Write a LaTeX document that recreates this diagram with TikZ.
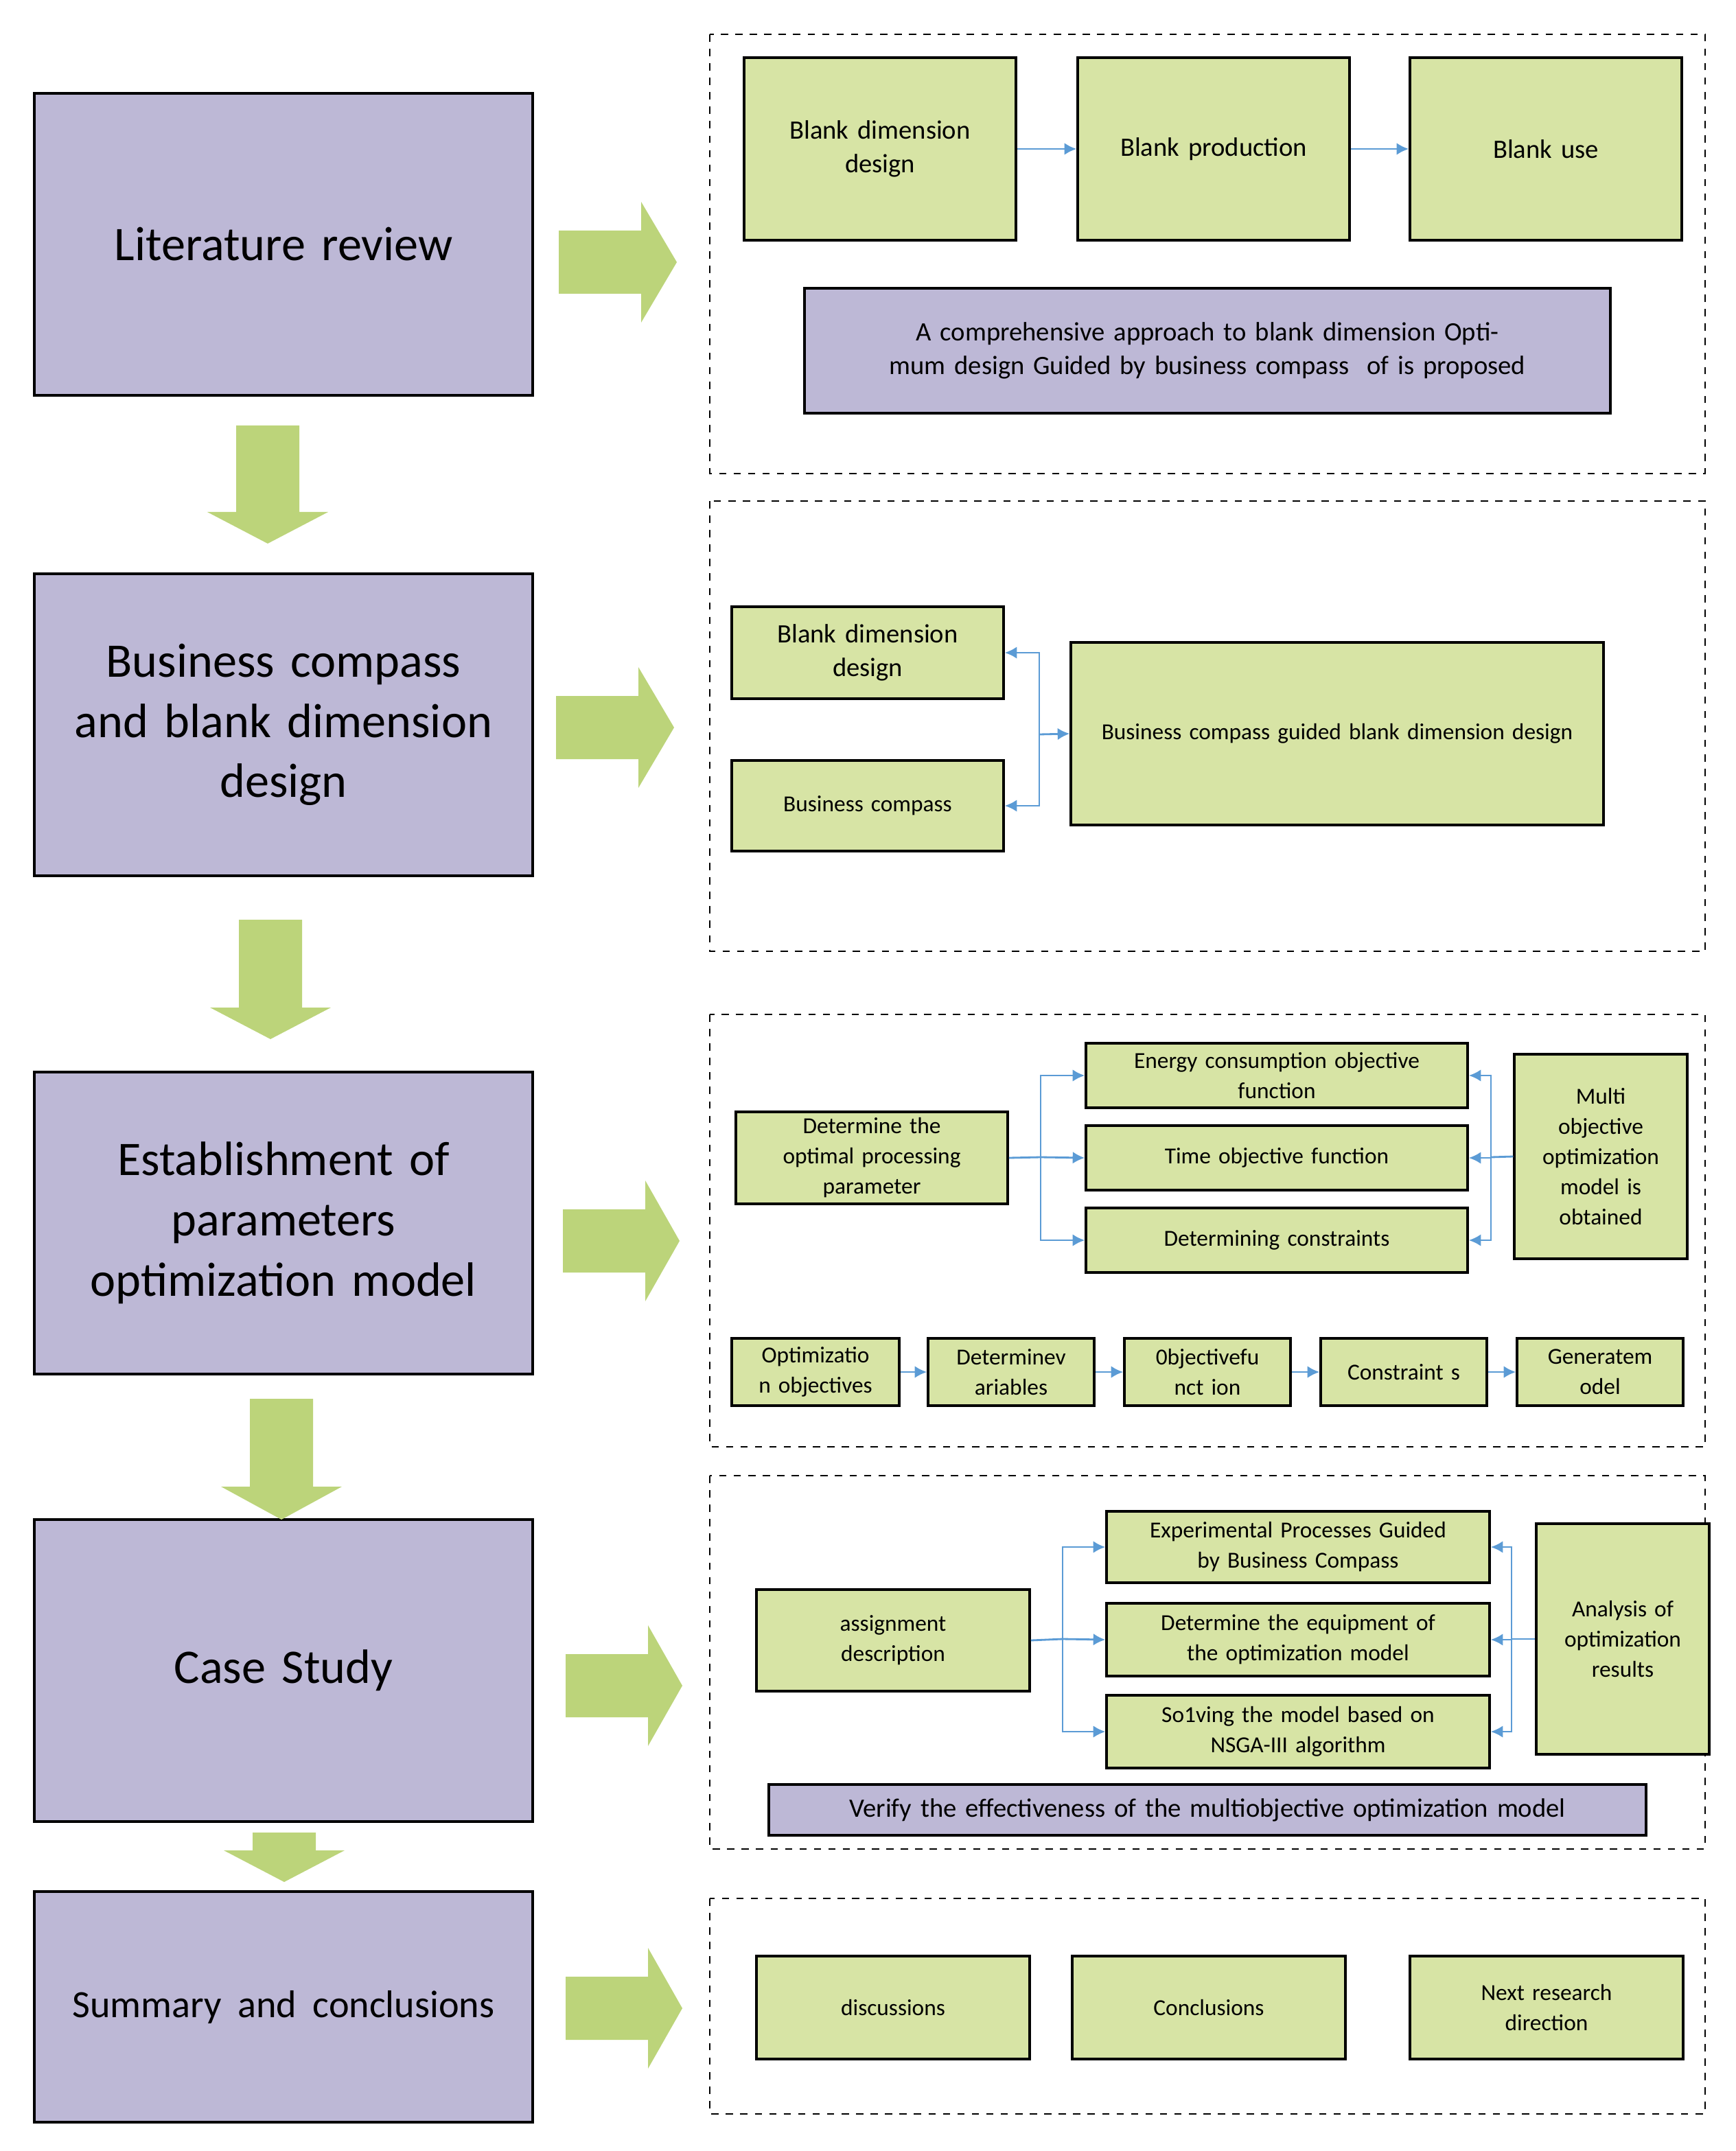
\documentclass[tikz,border=0pt]{standalone}
\usepackage{fontspec}
\setmainfont{Carlito}
\usetikzlibrary{arrows.meta,shapes.arrows}
\definecolor{pur}{HTML}{BDB8D6}
\definecolor{grn}{HTML}{D7E4A5}
\definecolor{arr}{HTML}{BCD47A}
\definecolor{blu}{HTML}{5B9BD5}
\begin{document}
\begin{tikzpicture}[x=0.02cm,y=-0.02cm,
 big/.style={draw,line width=1.2pt,fill=pur,align=center,font=\fontsize{20}{25}\selectfont},
 gb/.style={draw,line width=1pt,fill=grn,align=center,font=\fontsize{11}{14}\selectfont},
 gs/.style={draw,line width=1pt,fill=grn,align=center,font=\fontsize{9.5}{12.5}\selectfont},
 pb/.style={draw,line width=1pt,fill=pur,align=center,font=\fontsize{11}{14}\selectfont},
 panel/.style={draw,dashed,line width=0.8pt},
 conn/.style={draw=blu,line width=0.8pt,-{Latex[length=5pt,width=5pt]}},
 ln/.style={draw=blu,line width=0.8pt}]
\useasboundingbox (0,0) rectangle (1264,1567);
\newcommand{\bx}[6]{\node[#1,minimum width=(#4-#2)*0.02cm,minimum height=(#5-#3)*0.02cm,inner sep=1pt,text width=(#4-#2)*0.02cm-6pt] (#6) at ({(#2+#4)/2},{(#3+#5)/2}) {};}
\newcommand{\B}[7]{\node[#1,minimum width=(#4-#2)*0.02cm,minimum height=(#5-#3)*0.02cm,inner sep=1pt,text width=(#4-#2)*0.02cm-6pt] (#6) at ({(#2+#4)/2},{(#3+#5)/2}) {#7};}
% left column
\B{big}{25}{68}{388}{288}{L1}{Literature review}
\B{big}{25}{418}{388}{638}{L2}{Business compass\\and blank dimension\\design}
\B{big}{25}{781}{388}{1001}{L3}{Establishment of\\parameters\\optimization model}
\B{big}{25}{1107}{388}{1327}{L4}{Case Study}
\B{big}{25}{1378}{388}{1546}{L5}{\fontsize{16}{20}\selectfont Summary and conclusions}
% down arrows
\newcommand{\darr}[4]{\fill[arr] (#1-23,#2) -- (#1+23,#2) -- (#1+23,#3) -- (#1+44,#3) -- (#1,#4) -- (#1-44,#3) -- (#1-23,#3) -- cycle;}
\darr{195}{310}{373}{396}
\darr{197}{670}{734}{757}
\darr{205}{1019}{1083}{1107}
\darr{207}{1335}{1348}{1371}
\newcommand{\rarr}[3]{\fill[arr] (#1,#3-23) -- (#1+60,#3-23) -- (#1+60,#3-44) -- (#2,#3) -- (#1+60,#3+44) -- (#1+60,#3+23) -- (#1,#3+23) -- cycle;}
\rarr{407}{493}{191}
\rarr{405}{491}{530}
\rarr{410}{495}{904}
\rarr{412}{497}{1228}
\rarr{412}{497}{1463}
% panels
\draw[panel] (517,25) rectangle (1242,345);
\draw[panel] (517,365) rectangle (1242,693);
\draw[panel] (517,739) rectangle (1242,1054);
\draw[panel] (517,1075) rectangle (1242,1347);
\draw[panel] (517,1383) rectangle (1242,1540);
% panel 1
\B{gb}{542}{42}{740}{175}{a1}{Blank dimension\\design}
\B{gb}{785}{42}{983}{175}{a2}{Blank production}
\B{gb}{1027}{42}{1225}{175}{a3}{Blank use}
\B{pb}{586}{210}{1173}{301}{a4}{A comprehensive approach to blank dimension Optimum design Guided by business compass\ \ of is proposed}
\draw[conn] (a1) -- (a2);
\draw[conn] (a2) -- (a3);
% panel 2
\B{gb}{533}{442}{731}{509}{b1}{Blank dimension\\design}
\B{gs}{533}{554}{731}{620}{b2}{Business compass}
\B{gs}{780}{468}{1168}{601}{b3}{Business compass guided blank dimension design}
\coordinate (bj) at (757,535);
\draw[conn] (bj) -- (b3.west);
\draw[conn] (bj) |- (b1.east);
\draw[conn] (bj) |- (b2.east);
% panel 3
\B{gs}{536}{810}{734}{877}{c0}{Determine the\\optimal processing\\parameter}
\B{gs}{791}{760}{1069}{807}{c1}{Energy consumption objective\\function}
\B{gs}{791}{820}{1069}{867}{c2}{Time objective function}
\B{gs}{791}{880}{1069}{927}{c3}{Determining constraints}
\B{gs}{1103}{768}{1229}{917}{c4}{Multi\\objective\\optimization\\model is\\obtained}
\coordinate (cj) at (758,843);
\coordinate (ck) at (1086,843);
\draw[ln] (c0.east) -- (cj);
\draw[conn] (cj) |- (c1.west);
\draw[conn] (cj) -- (c2.west);
\draw[conn] (cj) |- (c3.west);
\draw[ln] (c4.west) -- (ck);
\draw[conn] (ck) |- (c1.east);
\draw[conn] (ck) |- (c2.east);
\draw[conn] (ck) |- (c3.east);
\B{gs}{533}{975}{655}{1024}{d1}{Optimizatio\\n objectives}
\B{gs}{676}{975}{797}{1024}{d2}{Determinev\\ariables}
\B{gs}{819}{975}{940}{1024}{d3}{0bjectivefu\\nct ion}
\B{gs}{962}{975}{1083}{1024}{d4}{Constraint s}
\B{gs}{1105}{975}{1226}{1024}{d5}{Generatem\\odel}
\draw[conn] (d1) -- (d2);
\draw[conn] (d2) -- (d3);
\draw[conn] (d3) -- (d4);
\draw[conn] (d4) -- (d5);
% panel 4
\B{gs}{551}{1158}{750}{1232}{e0}{assignment\\description}
\B{gs}{806}{1101}{1085}{1153}{e1}{Experimental Processes Guided\\by Business Compass}
\B{gs}{806}{1168}{1085}{1221}{e2}{Determine the equipment of\\the optimization model}
\B{gs}{806}{1235}{1085}{1288}{e3}{So1ving the model based on\\NSGA-III algorithm}
\B{gs}{1119}{1110}{1245}{1278}{e4}{Analysis of\\optimization\\results}
\B{pb}{560}{1300}{1199}{1337}{e5}{Verify the effectiveness of the multiobjective optimization model}
\coordinate (ej) at (774,1194);
\coordinate (ek) at (1101,1194);
\draw[ln] (e0.east) -- (ej);
\draw[conn] (ej) |- (e1.west);
\draw[conn] (ej) -- (e2.west);
\draw[conn] (ej) |- (e3.west);
\draw[ln] (e4.west) -- (ek);
\draw[conn] (ek) |- (e1.east);
\draw[conn] (ek) |- (e2.east);
\draw[conn] (ek) |- (e3.east);
% panel 5
\B{gs}{551}{1425}{750}{1500}{f1}{discussions}
\B{gs}{781}{1425}{980}{1500}{f2}{Conclusions}
\B{gs}{1027}{1425}{1226}{1500}{f3}{Next research\\direction}
\end{tikzpicture}
\end{document}
